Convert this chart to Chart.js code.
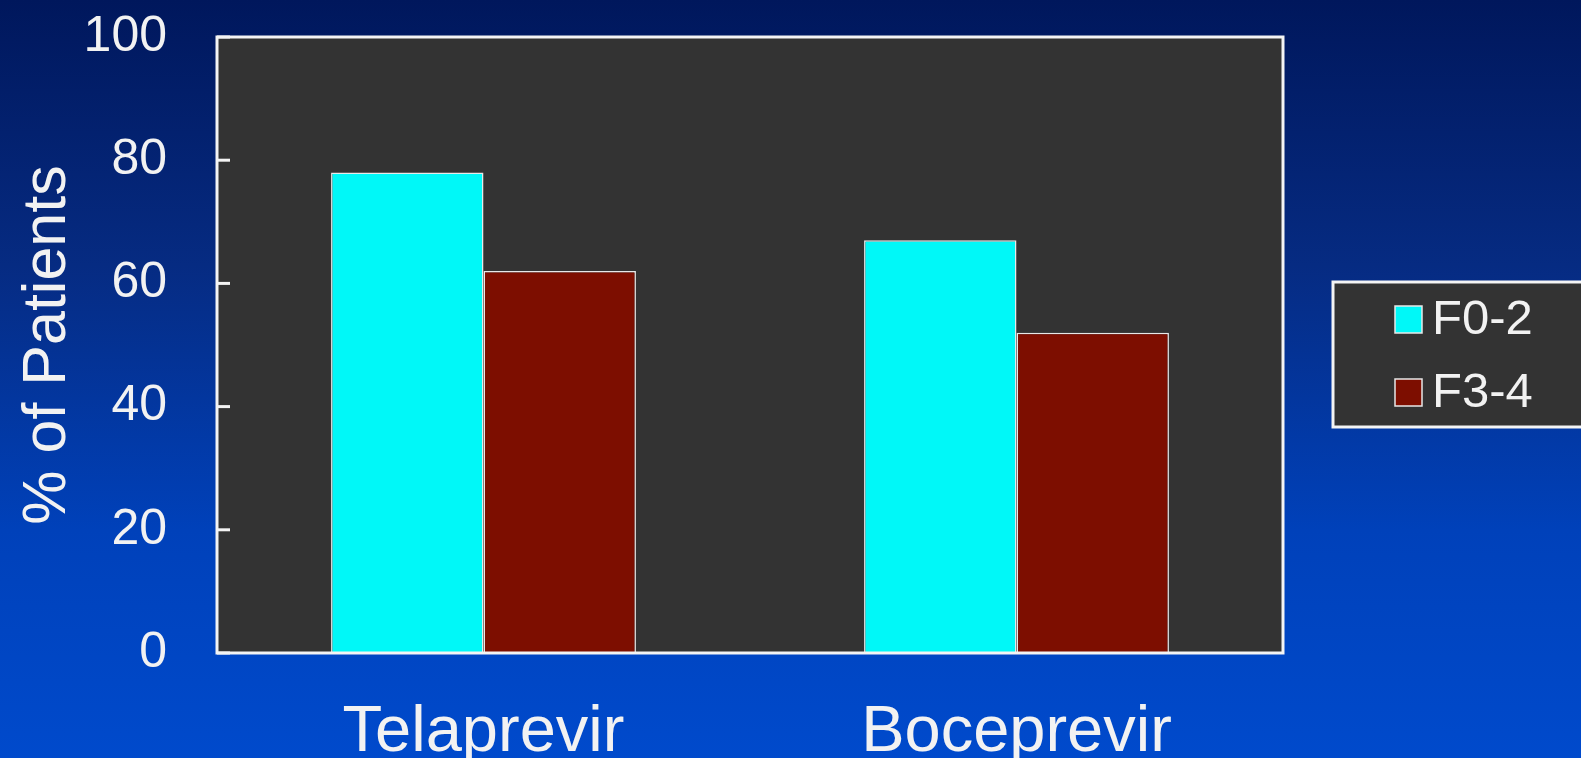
<!DOCTYPE html>
<html>
<head>
<meta charset="utf-8">
<script src="https://cdn.jsdelivr.net/npm/chart.js@4/dist/chart.umd.min.js"></script>
<style>
  html, body { margin: 0; padding: 0; }
  body {
    width: 1581px; height: 758px; overflow: hidden;
    background: linear-gradient(to bottom, #00175c 0%, #062b82 35%, #0041ba 70%, #004acc 100%);
  }
  canvas { display: block; }
</style>
</head>
<body>
<canvas id="svrChart" width="1581" height="758"></canvas>
<script>
// data
const categories = ['Telaprevir', 'Boceprevir'];
const seriesNames = ['F0-2', 'F3-4'];
const f02Values = [78, 67];
const f34Values = [62, 52];
const seriesColors = ['#00f8f8', '#7d0e00'];
const yTitle = '% of Patients';

const FONT = '"Liberation Sans", Arial, sans-serif';
const TEXT = '#f2f2f2';

// dark plot panel + white frame + short inward ticks every 10
const framePlugin = {
    id: 'frame',
    beforeDatasetsDraw(chart) {
        const a = chart.chartArea, ctx = chart.ctx;
        ctx.save();
        ctx.fillStyle = '#333333';
        ctx.fillRect(a.left, a.top, a.right - a.left, a.bottom - a.top);
        ctx.restore();
    },
    afterDatasetsDraw(chart) {
        const a = chart.chartArea, ctx = chart.ctx, y = chart.scales.y;
        ctx.save();
        ctx.strokeStyle = '#f4f4f4';
        ctx.lineWidth = 3;
        y.ticks.forEach(t => {
            const py = y.getPixelForValue(t.value);
            ctx.beginPath();
            ctx.moveTo(a.left, py);
            ctx.lineTo(a.left + 13, py);
            ctx.stroke();
        });
        ctx.strokeRect(a.left, a.top, a.right - a.left, a.bottom - a.top);
        ctx.restore();
    }
};

// boxed legend at the right, running off the slide edge
const legendBox = {
    id: 'legendBox',
    afterDraw(chart) {
        const ctx = chart.ctx;
        const bx = chart.chartArea.right + 50, by = 282, bh = 145;
        ctx.save();
        ctx.fillStyle = '#333333';
        ctx.fillRect(bx, by, chart.width - bx + 20, bh);
        ctx.strokeStyle = '#f4f4f4';
        ctx.lineWidth = 3;
        ctx.strokeRect(bx, by, chart.width - bx + 20, bh);
        ctx.font = '49px ' + FONT;
        ctx.textBaseline = 'middle';
        chart.data.datasets.forEach((ds, i) => {
            const cy = by + 37 + i * 73;
            ctx.fillStyle = ds.backgroundColor;
            ctx.fillRect(bx + 62, cy - 13, 27, 27);
            ctx.strokeStyle = '#e8e8e8';
            ctx.lineWidth = 1.5;
            ctx.strokeRect(bx + 62, cy - 13, 27, 27);
            ctx.fillStyle = TEXT;
            ctx.fillText(ds.label, bx + 99, cy + 1);
        });
        ctx.restore();
    }
};

new Chart(document.getElementById('svrChart'), {
    type: 'bar',
    data: {
        labels: categories,
        datasets: [
            { label: seriesNames[0], data: f02Values, backgroundColor: seriesColors[0] },
            { label: seriesNames[1], data: f34Values, backgroundColor: seriesColors[1] }
        ]
    },
    options: {
        responsive: false,
        animation: false,
        devicePixelRatio: 1,
        layout: { padding: { top: 37, right: 298, bottom: 0, left: 0 } },
        datasets: {
            bar: {
                categoryPercentage: 0.572,
                barPercentage: 1,
                borderColor: '#e8e8e8',
                borderWidth: 1.5
            }
        },
        plugins: {
            legend: { display: false },
            tooltip: { enabled: false }
        },
        scales: {
            x: {
                afterFit(scale) {
                    scale.height = 105;
                    scale.paddingLeft = 0;
                    scale.paddingRight = 0;
                },
                grid: { display: false, drawTicks: false },
                border: { display: false },
                ticks: {
                    color: TEXT,
                    padding: 48,
                    font: { family: FONT, size: 65, lineHeight: 1 }
                }
            },
            y: {
                min: 0,
                max: 100,
                afterFit(scale) {
                    scale.width = 217;
                    scale.paddingTop = 0;
                    scale.paddingBottom = 0;
                },
                grid: { display: false, drawTicks: false },
                border: { display: false },
                ticks: {
                    stepSize: 10,
                    color: TEXT,
                    padding: 50,
                    font: { family: FONT, size: 50 },
                    callback: v => (v % 20 === 0 ? v : '')
                },
                title: {
                    display: true,
                    text: yTitle,
                    color: TEXT,
                    padding: { top: 12, bottom: 0 },
                    font: { family: FONT, size: 61 }
                }
            }
        }
    },
    plugins: [framePlugin, legendBox]
});
</script>
</body>
</html>
